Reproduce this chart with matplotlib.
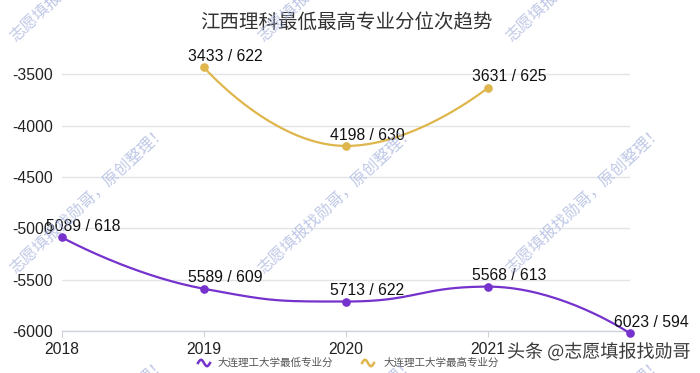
import numpy as np
import matplotlib
matplotlib.use("Agg")
import matplotlib.pyplot as plt
from matplotlib.lines import Line2D
import matplotlib.patheffects as pe

plt.rcParams['font.family'] = ['Liberation Sans', 'Noto Sans CJK SC', 'DejaVu Sans']

# ---------------- data ----------------
years = ["2018", "2019", "2020", "2021", "2022"]
tick_years = ["2018", "2019", "2020", "2021"]
low_rank = [-5089, -5589, -5713, -5568, -6023]
low_score = [618, 609, 622, 613, 594]
high_rank = [np.nan, -3433, -4198, -3631, np.nan]
high_score = [np.nan, 622, 630, 625, np.nan]
low_name = "大连理工大学最低专业分"
high_name = "大连理工大学最高专业分"
title = "江西理科最低最高专业分位次趋势"
yticks = [-6000, -5500, -5000, -4500, -4000, -3500]

PURPLE = "#7532cc"
GOLD = "#dfb64c"

W, H = 700, 373
fig = plt.figure(figsize=(W / 100, H / 100), dpi=100)
ax = fig.add_axes([62 / W, 1 - 331 / H, (630 - 62) / W, (331 - 64) / H])
ax.set_xlim(0, len(years) - 1)
ax.set_ylim(-6000, -3400)

for s in ["top", "right", "left"]:
    ax.spines[s].set_visible(False)
ax.spines["bottom"].set_color("#cfd2da")
ax.spines["bottom"].set_linewidth(1.0)
ax.set_yticks(yticks)
ax.set_yticklabels([str(v) for v in yticks])
ax.tick_params(axis="y", length=0, pad=6.5, labelsize=11.3, labelcolor="#222222")
ax.set_xticks(range(len(tick_years)))
ax.set_xticklabels(tick_years)
ax.tick_params(axis="x", length=4, color="#cfd2da", pad=4, labelsize=11.3, labelcolor="#222222")
ax.grid(axis="y", color="#e2e4ea", linewidth=1.0)
ax.set_axisbelow(True)


def echarts_smooth(xs, ys, smooth=0.5, n=40):
    """Smooth line through points like echarts (bezier with extreme constraint), in display space."""
    pts = ax.transData.transform(np.column_stack([xs, ys]))
    P = [tuple(p) for p in pts]
    out = [np.array(P[0])]
    cp0 = P[0]
    prev = P[0]
    for i in range(1, len(P)):
        x, y = P[i]
        px, py = prev
        if i == len(P) - 1:
            cp1 = (x, y)
            ncp0 = (x, y)
        else:
            nx, ny = P[i + 1]
            vx, vy = nx - px, ny - py
            l0 = np.hypot(x - px, y - py)
            l1 = np.hypot(nx - x, ny - y)
            r = l1 / (l1 + l0)
            ncx = x + vx * smooth * r
            ncy = y + vy * smooth * r
            ncx = min(ncx, max(nx, x)); ncy = min(ncy, max(ny, y))
            ncx = max(ncx, min(nx, x)); ncy = max(ncy, min(ny, y))
            vx, vy = ncx - x, ncy - y
            c1x = x - vx * l0 / l1
            c1y = y - vy * l0 / l1
            c1x = min(c1x, max(px, x)); c1y = min(c1y, max(py, y))
            c1x = max(c1x, min(px, x)); c1y = max(c1y, min(py, y))
            vx, vy = x - c1x, y - c1y
            ncx = x + vx * l1 / l0
            ncy = y + vy * l1 / l0
            cp1 = (c1x, c1y)
            ncp0 = (ncx, ncy)
        t = np.linspace(0, 1, n)[1:, None]
        p0 = np.array(prev); a = np.array(cp0); b = np.array(cp1); p3 = np.array((x, y))
        seg = (1 - t) ** 3 * p0 + 3 * (1 - t) ** 2 * t * a + 3 * (1 - t) * t ** 2 * b + t ** 3 * p3
        out.append(seg)
        cp0 = ncp0
        prev = (x, y)
    allpts = np.vstack(out)
    return ax.transData.inverted().transform(allpts)


def draw_series(vals, scores, color):
    xs = [i for i, v in enumerate(vals) if not np.isnan(v)]
    ys = [vals[i] for i in xs]
    curve = echarts_smooth(xs, ys)
    ax.plot(curve[:, 0], curve[:, 1], color=color, lw=1.6, clip_on=False, zorder=3,
            solid_capstyle="round")
    ax.plot(xs, ys, "o", color=color, ms=5.2, clip_on=False, zorder=4)
    for i in xs:
        ax.annotate(f"{int(-vals[i])} / {int(scores[i])}", (i, vals[i]),
                    xytext=(-11.5, 7.8), textcoords="offset points",
                    ha="left", va="center", fontsize=11.3, color="#111111",
                    zorder=5, annotation_clip=False)


draw_series(low_rank, low_score, PURPLE)
draw_series(high_rank, high_score, GOLD)

# title
fig.text(346 / W, 1 - 22 / H, title, ha="center", va="center", fontsize=14,
         color="#333333", family=["Noto Sans CJK SC", "DejaVu Sans"])


# legend (manual, echarts-style wave icons)
def wave_icon(cx, cy, color):
    t = np.linspace(-1, 1, 30)
    xs = cx + t * 6
    ys = cy + np.sin(t * np.pi) * 3.2
    fig.add_artist(Line2D(xs / W, 1 - ys / H, color=color, lw=1.8,
                          transform=fig.transFigure))


wave_icon(204, 363, PURPLE)
fig.text(218 / W, 1 - 363 / H, low_name, ha="left", va="center", fontsize=7.6,
         color="#555555", family=["Noto Sans CJK SC", "DejaVu Sans"])
wave_icon(368, 363, GOLD)
fig.text(384 / W, 1 - 363 / H, high_name, ha="left", va="center", fontsize=7.6,
         color="#555555", family=["Noto Sans CJK SC", "DejaVu Sans"])

# watermarks
wm = "志愿填报找勋哥，原创整理！"
for cx in (88, 336, 584):
    for cy in (-32, 200, 432):
        fig.text(cx / W, 1 - cy / H, wm, ha="center", va="center", rotation=43,
                 fontsize=11.5, color="#a4b1dc", alpha=0.7, zorder=10,
                 family=["Noto Sans CJK SC", "DejaVu Sans"])

fig.text(690 / W, 1 - 352 / H, "头条 @志愿填报找勋哥", ha="right", va="center",
         fontsize=13, color="#3a3a3a", zorder=11,
         family=["Noto Sans CJK SC", "DejaVu Sans"],
         path_effects=[pe.withStroke(linewidth=2.5, foreground="white")])

fig.savefig("out.png", dpi=100, facecolor="white")
